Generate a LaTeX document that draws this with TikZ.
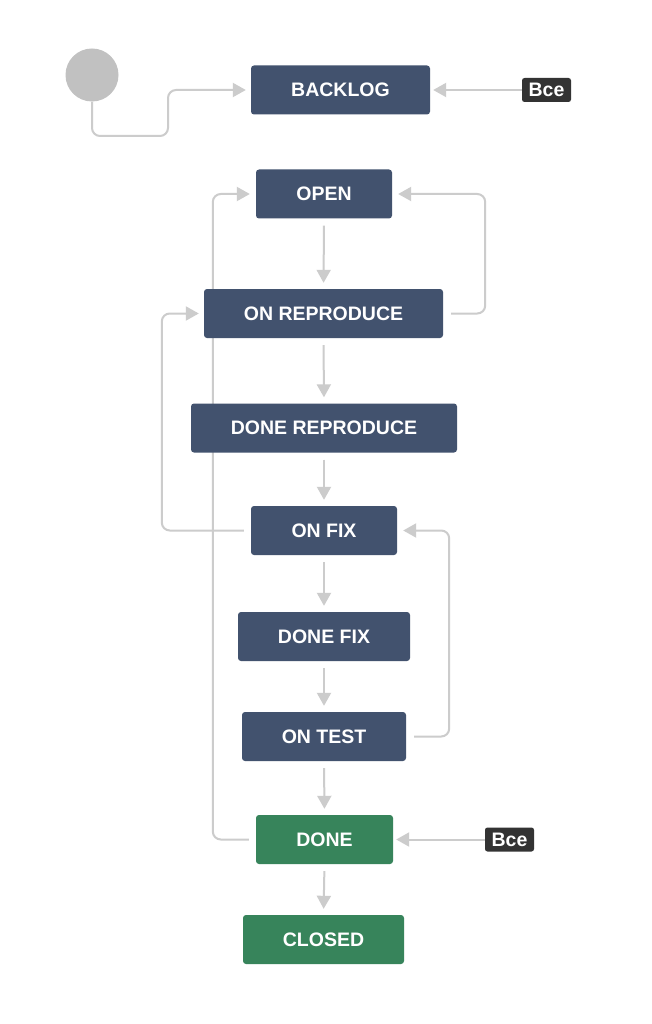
\documentclass[tikz,border=0pt]{standalone}
\usepackage{fontspec}
\setmainfont{Liberation Sans}
\usetikzlibrary{arrows.meta,backgrounds}
\definecolor{statusblue}{HTML}{42526E}
\definecolor{statusgreen}{HTML}{37845B}
\definecolor{linegray}{HTML}{CCCCCC}
\definecolor{taggray}{HTML}{333333}
\definecolor{startgray}{HTML}{C1C1C1}
\tikzset{
  status/.style={fill=statusblue, rounded corners=3pt, text=white,
    font=\fontsize{19.5}{21}\selectfont\bfseries, minimum height=49pt,
    inner sep=0pt, anchor=center},
  donestatus/.style={status, fill=statusgreen},
  tag/.style={fill=taggray, rounded corners=2.5pt, text=white,
    font=\fontsize{19.5}{21}\selectfont\bfseries, minimum width=49pt,
    minimum height=24pt, inner sep=0pt},
  arr/.style={draw=linegray, line width=2pt, rounded corners=8pt,
    -{Triangle[width=14pt,length=13pt]}},
}
\begin{document}
\begin{tikzpicture}[x=1pt,y=-1pt]
\useasboundingbox (0,0) rectangle (652,1024);

% start circle and the statuses
\node[circle, fill=startgray, minimum size=53pt, inner sep=0pt] (start) at (92,75) {};
\node[status, minimum width=179pt] (backlog) at (340.5,90) {BACKLOG};
\node[tag] (tagA) at (546.5,90) {Bce};
\node[status, minimum width=136pt] (open) at (324,194) {OPEN};
\node[status, minimum width=239pt] (onrep) at (323.5,313.5) {ON REPRODUCE};
\node[status, minimum width=266pt] (donerep) at (324,428) {DONE REPRODUCE};
\node[status, minimum width=146pt] (onfix) at (324,530.5) {ON FIX};
\node[status, minimum width=172pt] (donefix) at (324,636.5) {DONE FIX};
\node[status, minimum width=164pt] (ontest) at (324,736.5) {ON TEST};
\node[donestatus, minimum width=137pt] (done) at (324.5,839.5) {DONE};
\node[tag] (tagB) at (509.5,839.5) {Bce};
\node[donestatus, minimum width=161pt] (closed) at (323.5,939.5) {CLOSED};

\begin{scope}[on background layer]
\fill[white] (0,0) rectangle (652,1024);

% initial transition
\draw[arr, shorten >=5pt] (start.south) |- (168,136) |- (backlog.west);
% global transitions
\draw[arr, shorten >=3pt] (tagA.west) -- (backlog.east);
\draw[arr, shorten >=3pt] (tagB.west) -- (done.east);

% main flow
\draw[arr, shorten <=7pt, shorten >=6pt] (open.south) -- (onrep.north);
\draw[arr, shorten <=7pt, shorten >=6pt] (onrep.south) -- (donerep.north);
\draw[arr, shorten <=7pt, shorten >=6pt] (donerep.south) -- (onfix.north);
\draw[arr, shorten <=7pt, shorten >=6pt] (onfix.south) -- (donefix.north);
\draw[arr, shorten <=7pt, shorten >=6pt] (donefix.south) -- (ontest.north);
\draw[arr, shorten <=7pt, shorten >=6pt] (ontest.south) -- (done.north);
\draw[arr, shorten <=7pt, shorten >=6pt] (done.south) -- (closed.north);

% loops back
\draw[arr, shorten >=6pt] ([xshift=8pt]onrep.east) -| ([xshift=93pt]open.east) -- (open.east);
\draw[arr, shorten >=6pt] ([xshift=-7pt]done.west) -| ([xshift=-43pt]open.west) -- (open.west);
\draw[arr, shorten >=5pt] ([xshift=-7pt]onfix.west) -| ([xshift=-42pt]onrep.west) -- (onrep.west);
\draw[arr, shorten >=6pt] ([xshift=8pt]ontest.east) -| ([xshift=52pt]onfix.east) -- (onfix.east);
\end{scope}
\end{tikzpicture}
\end{document}
